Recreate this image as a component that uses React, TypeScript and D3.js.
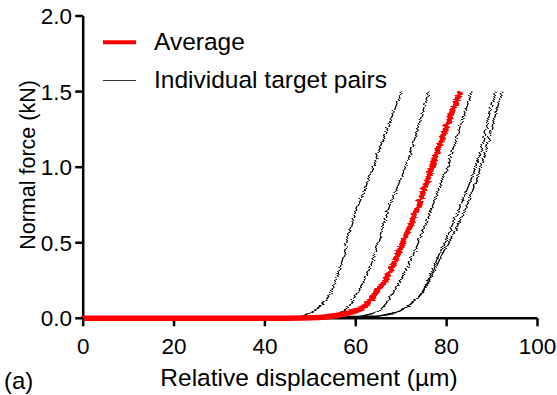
import React from "react";
import * as d3 from "d3";

type Pt = [number, number];

const xTicks = [0, 20, 40, 60, 80, 100];
const yTicks = [0, 0.5, 1.0, 1.5, 2.0];

const pair1: Pt[] = [[0, 0], [45, 0], [48, 0.01], [51, 0.06], [54.4, 0.165], [57, 0.38], [59.1, 0.63], [62, 0.85], [64.6, 1.07], [66.5, 1.22], [68.3, 1.36], [70.1, 1.5]];
const pair2: Pt[] = [[0, 0], [49, 0], [53, 0.01], [55.5, 0.025], [58, 0.06], [60.2, 0.165], [63.2, 0.34], [66.8, 0.69], [71.3, 1.03], [74.2, 1.31], [76, 1.5]];
const pair3: Pt[] = [[0, 0], [52, 0], [58, 0.01], [62, 0.02], [64.6, 0.04], [67, 0.11], [69.3, 0.22], [71.5, 0.35], [73.5, 0.48], [77.1, 0.76], [79.5, 0.95], [83, 1.27], [85.6, 1.5]];
const pair4: Pt[] = [[0, 0], [55, 0], [62, 0.01], [66, 0.02], [69.8, 0.05], [72.7, 0.11], [75.3, 0.22], [78.6, 0.44], [83.4, 0.77], [87.4, 1.1], [89.2, 1.32], [90.7, 1.5]];
const pair5: Pt[] = [[0, 0], [55, 0], [62, 0.01], [66, 0.02], [69.8, 0.05], [72.7, 0.11], [75.6, 0.22], [79.3, 0.44], [84.8, 0.77], [88.5, 1.1], [90.5, 1.32], [92.2, 1.5]];
const average: Pt[] = [[0, 0], [45, 0], [52, 0.005], [56, 0.02], [59, 0.04], [61.5, 0.07], [63.5, 0.13], [66.1, 0.23], [68.5, 0.37], [70.5, 0.51], [72.7, 0.66], [75, 0.85], [77.9, 1.1], [80.5, 1.31], [83, 1.5]];

const individuals = [pair1, pair2, pair3, pair4, pair5];

const legendLabels = ["Average", "Individual target pairs"];

const FONT = "'Liberation Sans', Arial, Helvetica, sans-serif";

export default function App() {
  const W = 557, H = 395;
  const x = d3.scaleLinear().domain([0, 100]).range([83.2, 537.5]);
  const y = d3.scaleLinear().domain([0, 2]).range([318.3, 16]);
  const line = d3
    .line<Pt>()
    .x((d) => x(d[0]))
    .y((d) => y(d[1]))
    .curve(d3.curveMonotoneX);

  return (
    <svg
      width={W}
      height={H}
      style={{ position: "absolute", left: 0, top: 0, display: "block", background: "#fff" }}
      fontFamily={FONT}
    >
      <defs>
        <filter id="jag" filterUnits="userSpaceOnUse" x={0} y={0} width={W} height={H}>
          <feTurbulence type="fractalNoise" baseFrequency="0.03 0.6" numOctaves={2} seed={3} result="noise" />
          <feColorMatrix
            in="noise"
            type="matrix"
            values="1 0 0 0 0  0 0 0 0 0.5  0 0 0 0 0  0 0 0 0 1"
            result="map"
          />
          <feDisplacementMap in="SourceGraphic" in2="map" scale={6.5} xChannelSelector="R" yChannelSelector="G" />
        </filter>
      </defs>

      {/* axes */}
      <line x1={x(0)} x2={x(100)} y1={y(0)} y2={y(0)} stroke="#000" strokeWidth={2.5} />
      <line x1={x(0)} x2={x(0)} y1={y(0) + 1.2} y2={y(2)} stroke="#000" strokeWidth={2.5} />
      {xTicks.map((t) => (
        <g key={"xt" + t}>
          <line x1={x(t)} x2={x(t)} y1={y(0)} y2={y(0) + 8} stroke="#000" strokeWidth={2.5} />
          <text x={x(t)} y={353.5} fontSize={22.5} textAnchor="middle" fill="#000">
            {t}
          </text>
        </g>
      ))}
      {yTicks.map((t) => (
        <g key={"yt" + t}>
          <line x1={x(0) - 8} x2={x(0)} y1={y(t)} y2={y(t)} stroke="#000" strokeWidth={2.5} />
          <text x={72} y={y(t) + 8} fontSize={22.5} textAnchor="end" fill="#000">
            {t.toFixed(1)}
          </text>
        </g>
      ))}

      {/* individual curves */}
      <g filter="url(#jag)">
        {individuals.map((d, i) => (
          <path key={i} d={line(d) || ""} fill="none" stroke="#000" strokeWidth={1.3} />
        ))}
      </g>
      <g filter="url(#jag)">
        <path d={line(average) || ""} fill="none" stroke="#ff0000" strokeWidth={5.5} />
      </g>

      {/* legend */}
      <line x1={103} x2={136} y1={42.3} y2={42.3} stroke="#ff0000" strokeWidth={4} />
      <text x={154} y={50} fontSize={24.5} fill="#000">
        {legendLabels[0]}
      </text>
      <line x1={103} x2={136} y1={80.5} y2={80.5} stroke="#333" strokeWidth={1.2} />
      <text x={154} y={88} fontSize={24.5} fill="#000">
        {legendLabels[1]}
      </text>

      {/* titles */}
      <text x={309} y={386} fontSize={24.5} textAnchor="middle" fill="#000">
        Relative displacement (µm)
      </text>
      <text
        transform={`translate(35, 165) rotate(-90)`}
        fontSize={21.5}
        textAnchor="middle"
        fill="#000"
      >
        Normal force (kN)
      </text>
      <text x={4} y={389} fontSize={24} fill="#000">
        (a)
      </text>
    </svg>
  );
}
